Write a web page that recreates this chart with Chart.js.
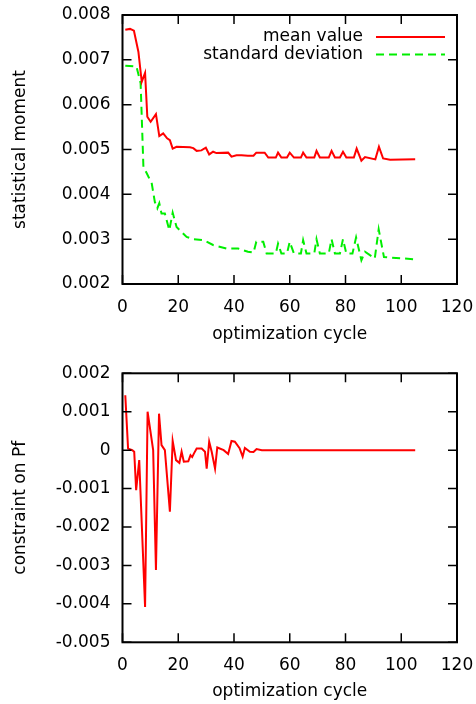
<!DOCTYPE html>
<html>
<head>
<meta charset="utf-8">
<script src="https://cdn.jsdelivr.net/npm/chart.js@4.4.1/dist/chart.umd.min.js"></script>
<style>
  html, body { margin: 0; padding: 0; background: #fff; }
  .panel { position: absolute; left: 0; width: 476px; height: 352px; }
  #top { top: 0; }
  #bottom { top: 352px; }
</style>
</head>
<body>
<div class="panel" id="top"><canvas id="momentChart"></canvas></div>
<div class="panel" id="bottom"><canvas id="pfChart"></canvas></div>
<script>
// values (vertex by vertex)
const meanCycles = [1, 2.7, 4.1, 5.7, 6.9, 8.1, 8.9, 10.1, 12, 13.2, 14.6, 16, 17, 18, 19.4, 24.2, 25.4, 26.6, 28.3, 29.9,
  31.1, 32.5, 33.7, 37.9, 39.1, 40.9, 42.7, 45, 47, 48, 51, 52.3, 55, 55.8, 57, 59, 60, 61.5, 64, 64.8,
  66, 68.8, 69.6, 70.8, 74, 75, 76.2, 78, 79.1, 80.3, 83, 84, 85.7, 87, 90.7, 92, 93.5, 96, 105];
const meanValues = [0.00767, 0.00769, 0.00765, 0.00718, 0.00651, 0.00671, 0.00573, 0.00562, 0.00579, 0.0053, 0.00536, 0.00525, 0.00521, 0.00502, 0.00506, 0.00505, 0.00503, 0.00497, 0.00498, 0.00504,
  0.00489, 0.00495, 0.00492, 0.00493, 0.00484, 0.00487, 0.00487, 0.00486, 0.00486, 0.00493, 0.00493, 0.00482, 0.00482, 0.00493, 0.00482, 0.00482, 0.00493, 0.00482, 0.00482, 0.00493,
  0.00482, 0.00482, 0.00497, 0.00482, 0.00482, 0.00497, 0.00482, 0.00482, 0.00495, 0.00482, 0.00482, 0.00502, 0.00475, 0.00483, 0.00478, 0.00506, 0.0048, 0.00477, 0.00478];

const stdCycles = [1, 5, 6.5, 7.5, 8.7, 10.5, 11.6, 12.5, 13.2, 14, 15.2, 16.8, 18, 19.4, 23, 25.4, 29, 32.5, 37.3, 41.5,
  45, 47, 48, 50.5, 51.7, 55, 55.8, 57, 59, 60, 61.5, 64, 64.8, 66, 68.8, 69.6, 70.8, 74, 75, 76.2,
  78, 79.1, 80.3, 82.5, 83.8, 85.7, 87, 90.5, 91.9, 93.8, 105];
const stdValues = [0.00687, 0.00685, 0.00648, 0.00461, 0.00447, 0.00424, 0.00383, 0.00369, 0.0038, 0.00357, 0.00357, 0.0032, 0.00359, 0.00327, 0.00305, 0.003, 0.00298, 0.00287, 0.00279, 0.00279,
  0.00272, 0.0027, 0.00294, 0.00294, 0.00268, 0.00268, 0.0029, 0.00268, 0.00268, 0.00294, 0.00268, 0.00268, 0.00298, 0.00268, 0.00268, 0.003, 0.00268, 0.00268, 0.003, 0.00268,
  0.00268, 0.003, 0.00268, 0.00268, 0.00304, 0.00253, 0.00272, 0.00257, 0.00322, 0.0026, 0.00255];

const pfCycles = [1, 2, 3.5, 4.2, 4.9, 6, 8.1, 9, 11, 12, 13.1, 14, 15.2, 17, 18, 19.2, 20.4, 21.2, 22, 23.6,
  24.4, 25, 25.6, 26.6, 28.4, 29.6, 30.2, 31.1, 32, 33.2, 34, 36.3, 37.9, 39.1, 40.3, 42, 43.1, 43.9, 45.7, 47,
  48.1, 50, 105];
const pfValues = [0.00143, 0.00004, 0, -0.00004, -0.00104, -0.00026, -0.00408, 0.001, 0, -0.00312, 0.00095, 0.00013, 0, -0.0016, 0.00024, -0.00026, -0.00033, -0.00004, -0.0003, -0.00029,
  -0.00013, -0.00018, -0.00009, 0.00004, 0.00004, -0.00004, -0.00048, 0.00022, -0.00004, -0.00048, 0.00007, 0, -0.0001, 0.00024, 0.00022, 0.00005, -0.00017, 0.00006, -0.00004, -0.00005,
  0.00003, 0, 0];

const xTicks = [0, 20, 40, 60, 80, 100, 120];
const momentTicks = [0.002, 0.003, 0.004, 0.005, 0.006, 0.007, 0.008];
const pfTicks = [-0.005, -0.004, -0.003, -0.002, -0.001, 0, 0.001, 0.002];

const FONT = { family: "'DejaVu Sans', sans-serif", size: 17 };
const toPoints = (xs, ys) => xs.map((x, i) => ({ x, y: ys[i] }));

// gnuplot look: closed frame, ticks pointing inwards on all four sides
const framePlugin = {
  id: 'frame',
  afterDraw(chart) {
    const { ctx, chartArea: a, scales } = chart;
    const len = 9;
    ctx.save();
    ctx.strokeStyle = '#000';
    ctx.lineWidth = 1.5;
    ctx.beginPath();
    scales.x.ticks.forEach(t => {
      const px = scales.x.getPixelForValue(t.value);
      ctx.moveTo(px, a.bottom); ctx.lineTo(px, a.bottom - len);
      ctx.moveTo(px, a.top); ctx.lineTo(px, a.top + len);
    });
    scales.y.ticks.forEach(t => {
      const py = scales.y.getPixelForValue(t.value);
      ctx.moveTo(a.left, py); ctx.lineTo(a.left + len, py);
      ctx.moveTo(a.right, py); ctx.lineTo(a.right - len, py);
    });
    ctx.stroke();
    ctx.lineWidth = 2;
    ctx.strokeRect(a.left, a.top, a.right - a.left, a.bottom - a.top);
    ctx.restore();
  }
};

// legend: label right-aligned, line sample to its right (inside plot, top right)
const keyPlugin = {
  id: 'key',
  afterDatasetsDraw(chart, args, opts) {
    if (!opts.show) return;
    const { ctx } = chart;
    ctx.save();
    ctx.font = `${FONT.size}px ${FONT.family}`;
    ctx.textAlign = 'right';
    ctx.textBaseline = 'middle';
    chart.data.datasets.forEach((ds, i) => {
      const y = opts.y + i * opts.gap;
      ctx.fillStyle = '#000';
      ctx.fillText(ds.label, opts.textRight, y);
      ctx.strokeStyle = ds.borderColor;
      ctx.lineWidth = ds.borderWidth;
      ctx.setLineDash(ds.borderDash || []);
      ctx.beginPath();
      ctx.moveTo(opts.lineStart, y);
      ctx.lineTo(opts.lineEnd, y);
      ctx.stroke();
    });
    ctx.restore();
  }
};

function makeChart(canvasId, datasets, yTicks, yTitle, padTop, xTitlePad, showKey) {
  return new Chart(document.getElementById(canvasId), {
    type: 'line',
    data: { datasets },
    options: {
      responsive: true,
      maintainAspectRatio: false,
      animation: false,
      layout: { padding: { top: padTop, right: 19, left: 0, bottom: 0 } },
      plugins: {
        legend: { display: false },
        tooltip: { enabled: false },
        key: { show: showKey, y: 37, gap: 17.5, textRight: 363, lineStart: 376, lineEnd: 445 }
      },
      elements: { point: { radius: 0 }, line: { tension: 0 } },
      scales: {
        x: {
          type: 'linear',
          min: xTicks[0], max: xTicks[xTicks.length - 1],
          afterBuildTicks: s => { s.ticks = xTicks.map(v => ({ value: v })); },
          afterFit: s => { s.height = 352 - padTop - 269; s.paddingLeft = 0; s.paddingRight = 0; },
          grid: { display: false, drawTicks: false },
          border: { display: false },
          ticks: { color: '#000', font: FONT, padding: 13, maxRotation: 0, callback: v => String(v) },
          title: { display: true, text: 'optimization cycle', color: '#000', font: FONT, padding: { top: 0, bottom: xTitlePad } }
        },
        y: {
          min: yTicks[0], max: yTicks[yTicks.length - 1],
          afterBuildTicks: s => { s.ticks = yTicks.map(v => ({ value: v })); },
          afterFit: s => { s.width = 122.5; s.paddingTop = 0; s.paddingBottom = 0; },
          grid: { display: false, drawTicks: false },
          border: { display: false },
          ticks: { color: '#000', font: FONT, padding: 12, callback: v => Math.abs(v) < 1e-12 ? '0' : v.toFixed(3) },
          title: { display: true, text: yTitle, color: '#000', font: FONT, padding: { top: 10, bottom: 0 } }
        }
      }
    },
    plugins: [framePlugin, keyPlugin]
  });
}

makeChart('momentChart', [
  { label: 'mean value', data: toPoints(meanCycles, meanValues), borderColor: '#ff0000', borderWidth: 2 },
  { label: 'standard deviation', data: toPoints(stdCycles, stdValues), borderColor: '#00ee00', borderWidth: 2, borderDash: [8, 5] }
], momentTicks, 'statistical moment', 15, 7, true);

makeChart('pfChart', [
  { label: 'constraint', data: toPoints(pfCycles, pfValues), borderColor: '#ff0000', borderWidth: 2 }
], pfTicks, 'constraint on Pf', 21.3, 2, false);
</script>
</body>
</html>
